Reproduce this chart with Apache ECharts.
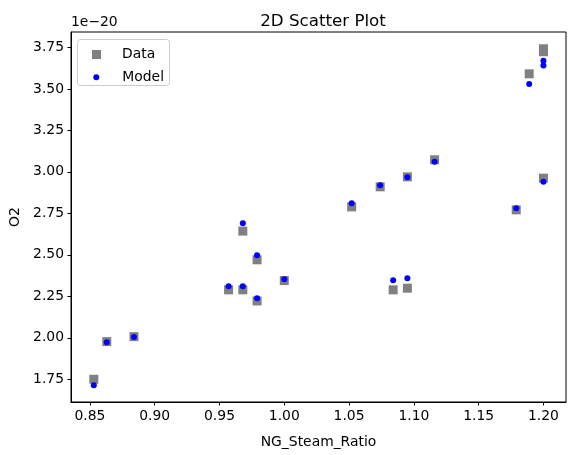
<!DOCTYPE html>
<html>
<head>
<meta charset="utf-8">
<script src="https://cdn.jsdelivr.net/npm/echarts@6/dist/echarts.min.js"></script>
<style>
  html, body { margin: 0; padding: 0; background: #fff; }
  #chart { width: 576px; height: 455px; }
</style>
</head>
<body>
<div id="chart"></div>
<script>
// NG_Steam_Ratio values for each sample
const ratio = [0.853, 0.863, 0.884, 0.957, 0.968, 0.968, 0.979, 0.979, 1.0,
  1.052, 1.074, 1.095, 1.084, 1.095, 1.116, 1.179, 1.2, 1.189, 1.2, 1.2]
// O2, in units of 1e-20
const o2Data = [1.75, 1.977, 2.007, 2.289, 2.289, 2.643, 2.47, 2.222, 2.345,
  2.789, 2.91, 2.97, 2.289, 2.299, 3.073, 2.771, 2.962, 3.591, 3.742, 3.724]
const o2Model = [1.714, 1.973, 2.005, 2.311, 2.311, 2.691, 2.498, 2.238, 2.353,
  2.811, 2.92, 2.968, 2.347, 2.359, 3.061, 2.781, 2.94, 3.529, 3.67, 3.641]
const xTicks = [0.85, 0.9, 0.95, 1.0, 1.05, 1.1, 1.15, 1.2]
const yTicks = [1.75, 2.0, 2.25, 2.5, 2.75, 3.0, 3.25, 3.5, 3.75]

const font = 'DejaVu Sans'
const pairs = (ys) => ratio.map((x, i) => [x, ys[i]])

const chart = echarts.init(document.getElementById('chart'), null, { renderer: 'canvas' })

const option = {
  animation: false,
  title: [
    {
      text: '2D Scatter Plot',
      left: 318, top: 8, textAlign: 'center',
      textStyle: { fontFamily: font, fontSize: 16.7, fontWeight: 'normal', color: '#000' }
    },
    {
      text: '1e\u221220',
      left: 71, top: 15, padding: 0,
      textStyle: { fontFamily: font, fontSize: 13.9, fontWeight: 'normal', color: '#000' }
    }
  ],
  grid: {
    left: 71, right: 10, top: 32, bottom: 53,
    outerBoundsMode: 'none',
    show: true, borderColor: '#000', borderWidth: 1
  },
  legend: [
    {
      data: [{ name: 'Data', icon: 'rect' }],
      left: 92, top: 47.5, padding: 0,
      itemWidth: 9, itemHeight: 9,
      textStyle: { fontFamily: font, fontSize: 13.9, color: '#000', padding: [0, 0, 0, 16] }
    },
    {
      data: [{ name: 'Model', icon: 'circle' }],
      left: 93.3, top: 70.3, padding: 0,
      itemWidth: 6, itemHeight: 6,
      textStyle: { fontFamily: font, fontSize: 13.9, color: '#000', padding: [0, 0, 0, 18] }
    }
  ],
  graphic: [
    {
      type: 'rect', left: 77, top: 39, z: 0,
      shape: { width: 92, height: 46, r: 3 },
      style: { fill: 'rgba(255,255,255,0.8)', stroke: '#cccccc', lineWidth: 1 }
    }
  ],
  xAxis: {
    type: 'value',
    min: 0.8354, max: 1.2174,
    name: 'NG_Steam_Ratio',
    nameLocation: 'middle', nameGap: 33,
    nameTextStyle: { fontFamily: font, fontSize: 13.9, color: '#000' },
    splitLine: { show: false },
    axisLine: { show: true, lineStyle: { color: '#000', width: 1 } },
    axisTick: { show: true, inside: false, length: 3.5, lineStyle: { color: '#000' }, customValues: xTicks },
    axisLabel: {
      fontFamily: font, fontSize: 13.9, color: '#000', margin: 7,
      customValues: xTicks, formatter: (v) => v.toFixed(2)
    }
  },
  yAxis: {
    type: 'value',
    min: 1.613, max: 3.843,
    name: 'O2',
    nameLocation: 'middle', nameGap: 49,
    nameTextStyle: { fontFamily: font, fontSize: 13.9, color: '#000' },
    splitLine: { show: false },
    axisLine: { show: true, lineStyle: { color: '#000', width: 1 } },
    axisTick: { show: true, inside: false, length: 3.5, lineStyle: { color: '#000' }, customValues: yTicks },
    axisLabel: {
      fontFamily: font, fontSize: 13.9, color: '#000', margin: 7,
      customValues: yTicks, formatter: (v) => v.toFixed(2)
    }
  },
  series: [
    {
      name: 'Data', type: 'scatter',
      symbol: 'rect', symbolSize: 9,
      itemStyle: { color: '#808080', opacity: 1 },
      data: pairs(o2Data)
    },
    {
      name: 'Model', type: 'scatter',
      symbol: 'circle', symbolSize: 6,
      itemStyle: { color: '#0000ff', opacity: 1 },
      data: pairs(o2Model)
    }
  ]
}

chart.setOption(option)
</script>
</body>
</html>
